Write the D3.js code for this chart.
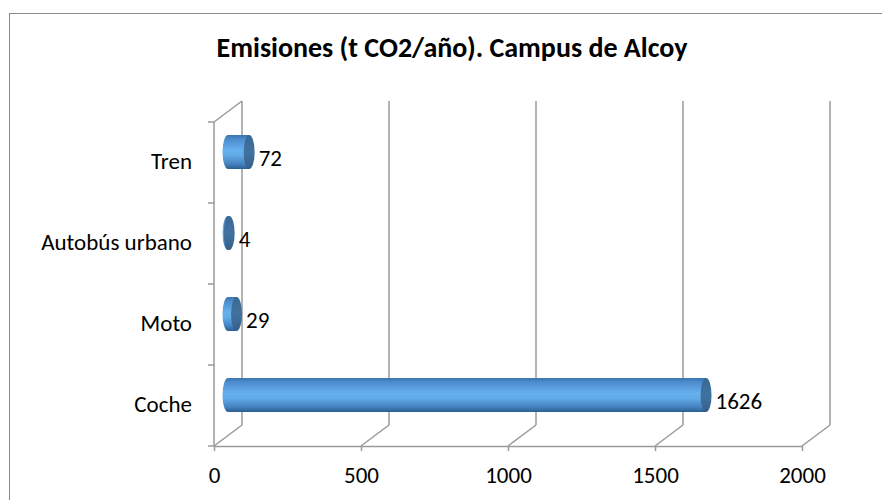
<!DOCTYPE html>
<head>
  <meta charset="utf-8">
  <script src="https://d3js.org/d3.v7.min.js"></script>
  <style>
    body { margin: 0; background: #fff; }
    svg { display: block; font-family: Carlito, Calibri, Lato, sans-serif; }
  </style>
</head>
<body>
  <svg width="882" height="500"></svg>
  <script>
    var title = 'Emisiones (t CO2/año). Campus de Alcoy';
    var categories = ['Coche', 'Moto', 'Autobús urbano', 'Tren'];
    var values = [1626, 29, 4, 72];
    var xTicks = [0, 500, 1000, 1500, 2000];

    var svg = d3.select('svg');
    var depth = { dx: 28, dy: -21 };
    var plot = { left: 214, right: 802, top: 122, bottom: 446 };
    var fontSize = 23;

    var xScale = d3.scaleLinear().domain([0, 2000]).range([plot.left, plot.right]);
    var yScale = d3.scaleBand().domain(categories).range([plot.bottom, plot.top]);

    // outer chart border (runs off the picture at right and bottom)
    svg.append('rect')
      .attr('x', 9.5).attr('y', 13.5)
      .attr('width', 900).attr('height', 520)
      .attr('fill', 'none').attr('stroke', '#8a8a8a').attr('stroke-width', 1);

    svg.append('text')
      .attr('x', 452).attr('y', 57)
      .attr('text-anchor', 'middle')
      .attr('font-weight', 'bold')
      .attr('font-size', 28)
      .attr('fill', '#000')
      .text(title);

    var gridColor = '#9a9a9a';
    var grid = svg.append('g').attr('stroke', gridColor).attr('stroke-width', 1.5).attr('fill', 'none');

    // back wall gridlines + floor diagonals
    xTicks.forEach(function (t) {
      var x = xScale(t);
      grid.append('line')
        .attr('x1', x + depth.dx).attr('x2', x + depth.dx)
        .attr('y1', plot.top + depth.dy).attr('y2', plot.bottom + depth.dy);
      grid.append('line')
        .attr('x1', x).attr('y1', plot.bottom)
        .attr('x2', x + depth.dx).attr('y2', plot.bottom + depth.dy);
    });

    // side wall: front left edge and top diagonal
    grid.append('line')
      .attr('x1', plot.left).attr('x2', plot.left)
      .attr('y1', plot.top).attr('y2', plot.bottom);
    grid.append('line')
      .attr('x1', plot.left).attr('y1', plot.top)
      .attr('x2', plot.left + depth.dx).attr('y2', plot.top + depth.dy);

    // category boundary ticks
    var bounds = categories.map(function (c) { return yScale(c); }).concat([plot.bottom]);
    bounds.forEach(function (y) {
      grid.append('line')
        .attr('x1', plot.left - 6).attr('x2', plot.left)
        .attr('y1', y).attr('y2', y);
    });

    // front value axis
    var xAxis = d3.axisBottom(xScale).tickValues(xTicks).tickFormat(d3.format('d'))
      .tickSize(5).tickSizeOuter(0).tickPadding(16);
    var gx = svg.append('g')
      .attr('transform', 'translate(0,' + plot.bottom + ')')
      .call(xAxis);
    gx.select('.domain').attr('stroke', gridColor).attr('stroke-width', 1.5);
    gx.selectAll('.tick line').attr('stroke', gridColor).attr('stroke-width', 1.5);
    gx.selectAll('.tick text')
      .attr('font-family', 'Carlito, Calibri, Lato, sans-serif')
      .attr('font-size', fontSize).attr('fill', '#000');

    // category labels
    svg.append('g').selectAll('text')
      .data(categories)
      .enter()
      .append('text')
      .attr('x', 192)
      .attr('y', function (d) { return yScale(d) + yScale.bandwidth() / 2 + 6; })
      .attr('text-anchor', 'end')
      .attr('font-size', fontSize)
      .attr('fill', '#000')
      .text(function (d) { return d; });

    // cylinder gradients
    var defs = svg.append('defs');
    var body = defs.append('linearGradient').attr('id', 'body')
      .attr('x1', 0).attr('y1', 0).attr('x2', 0).attr('y2', 1);
    [[0, '#3a74b0'], [0.12, '#4d8ccc'], [0.45, '#66b0ee'], [0.6, '#62aae8'], [0.85, '#4482c0'], [1, '#2c5e90']]
      .forEach(function (s) { body.append('stop').attr('offset', s[0]).attr('stop-color', s[1]); });
    var cap = defs.append('linearGradient').attr('id', 'cap')
      .attr('x1', 0).attr('y1', 0).attr('x2', 0).attr('y2', 1);
    [[0, '#3a6894'], [0.5, '#41729f'], [1, '#355f8a']]
      .forEach(function (s) { cap.append('stop').attr('offset', s[0]).attr('stop-color', s[1]); });

    var ry = 17, rx = 5.5;
    var cyl = svg.append('g').selectAll('g')
      .data(categories)
      .enter()
      .append('g');

    function cx0() { return xScale(0) + depth.dx / 2; }
    function cx1(d, i) { return xScale(values[i]) + depth.dx / 2; }
    function cy(d) { return yScale(d) + yScale.bandwidth() / 2 + depth.dy / 2; }

    cyl.append('ellipse')
      .attr('cx', cx0).attr('cy', cy)
      .attr('rx', rx).attr('ry', ry)
      .attr('fill', 'url(#body)');
    cyl.append('rect')
      .attr('x', cx0)
      .attr('y', function (d) { return cy(d) - ry; })
      .attr('width', function (d, i) { return cx1(d, i) - cx0(); })
      .attr('height', ry * 2)
      .attr('fill', 'url(#body)');
    cyl.append('ellipse')
      .attr('cx', cx1).attr('cy', cy)
      .attr('rx', rx).attr('ry', ry)
      .attr('fill', 'url(#cap)');

    // value labels
    cyl.append('text')
      .attr('x', function (d, i) { return cx1(d, i) + rx + 4; })
      .attr('y', function (d) { return cy(d) + 14; })
      .attr('font-size', fontSize)
      .attr('fill', '#000')
      .text(function (d, i) { return values[i]; });
  </script>
</body>
